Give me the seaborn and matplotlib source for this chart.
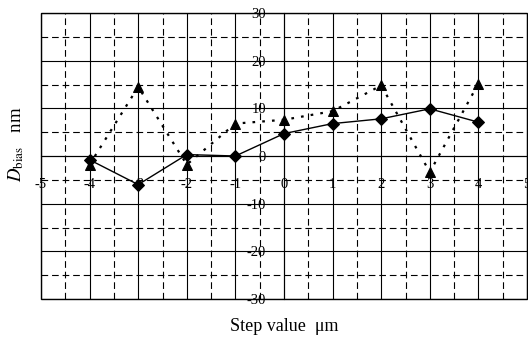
import matplotlib
matplotlib.use("Agg")
import matplotlib.pyplot as plt
import pandas as pd
import seaborn as sns
from matplotlib.patches import Rectangle
from matplotlib.ticker import MultipleLocator

# 数据：步进值与偏差
steps = [-4, -3, -2, -1, 0, 1, 2, 3, 4]
bias_diamond = [-0.8, -6.0, 0.3, 0.0, 4.7, 6.8, 7.8, 9.9, 7.1]
bias_triangle = [-1.8, 14.5, -1.8, 6.8, 7.6, 9.4, 14.8, -3.4, 15.2]

x_ticks = [-5, -4, -3, -2, -1, 0, 1, 2, 3, 4, 5]
y_ticks = [-30, -20, -10, 0, 10, 20, 30]


def _setup_style() -> None:
    sns.set_theme(style="white")
    plt.rcParams["font.family"] = ["Liberation Serif", "DejaVu Serif"]
    plt.rcParams["mathtext.fontset"] = "stix"
    plt.rcParams["axes.unicode_minus"] = False


def main() -> None:
    _setup_style()
    df = pd.DataFrame({"step": steps, "diamond": bias_diamond, "triangle": bias_triangle})

    fig = plt.figure(figsize=(5.28, 3.38), dpi=100)
    ax = fig.add_axes([41 / 528, 1 - 299 / 338, 486 / 528, 286 / 338])

    sns.lineplot(data=df, x="step", y="triangle", ax=ax, color="black", marker="^",
                 markersize=7, markeredgecolor="black", linewidth=1.6,
                 linestyle=(0, (1.2, 3.2)), sort=False, zorder=3)
    sns.lineplot(data=df, x="step", y="diamond", ax=ax, color="black", marker="D",
                 markersize=6.5, markeredgecolor="black", linewidth=1.0,
                 sort=False, zorder=4)

    ax.set_xlim(-5, 5)
    ax.set_ylim(-30, 30)
    ax.set_xticks(x_ticks)
    ax.set_yticks(y_ticks)
    ax.xaxis.set_minor_locator(MultipleLocator(0.5))
    ax.yaxis.set_minor_locator(MultipleLocator(5))
    ax.grid(which="major", color="black", linewidth=0.8, linestyle="-")
    ax.grid(which="minor", color="black", linewidth=0.8, linestyle=(0, (6, 3.5)))
    ax.set_axisbelow(True)

    # 坐标轴交于原点
    ax.spines["left"].set_position(("data", 0))
    ax.spines["bottom"].set_position(("data", 0))
    for s in ["top", "right"]:
        ax.spines[s].set_visible(False)
    for s in ["left", "bottom"]:
        ax.spines[s].set_color("black")
        ax.spines[s].set_linewidth(0.8)
    ax.add_patch(Rectangle((0, 0), 1, 1, transform=ax.transAxes, fill=False,
                           edgecolor="black", linewidth=1.0, clip_on=False, zorder=5))

    ax.tick_params(which="both", length=0)
    ax.tick_params(axis="y", pad=13, labelsize=10.5, colors="black")
    ax.tick_params(axis="x", pad=16, labelsize=10.5, colors="black")

    ax.set_xlabel("Step value  μm", fontsize=13, color="black")
    ax.set_ylabel(r"$D_{\mathrm{bias}}$   nm", fontsize=13.5, color="black")
    ax.xaxis.set_label_coords(0.5, -0.066)
    ax.yaxis.set_label_coords(-0.03, 0.54)

    fig.savefig("out.png", dpi=100)
    plt.close(fig)


if __name__ == "__main__":
    main()
